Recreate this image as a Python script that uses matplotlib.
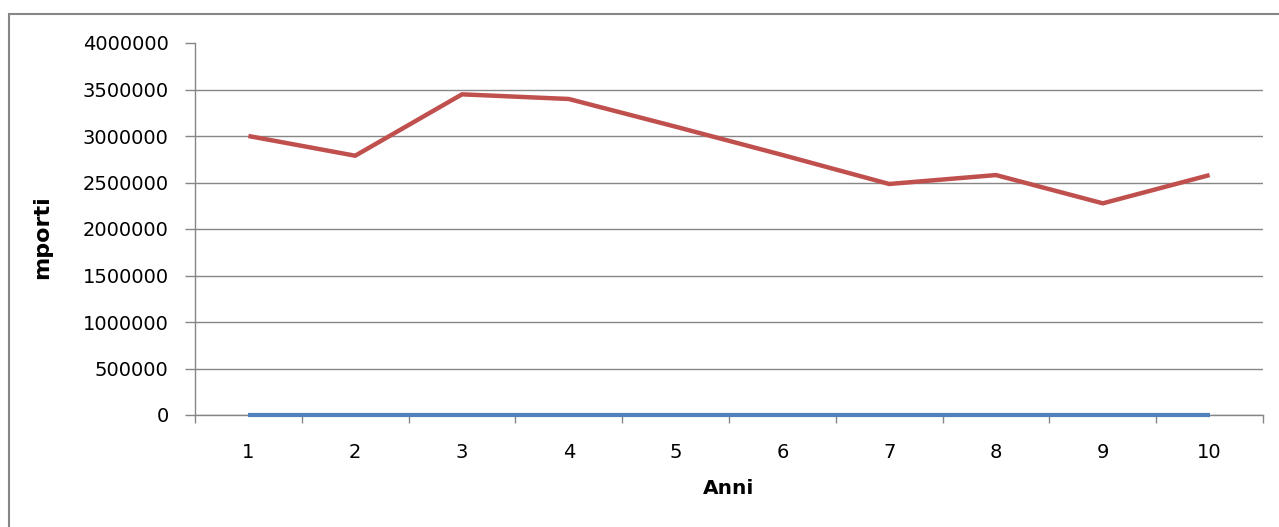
import matplotlib.pyplot as plt
from matplotlib.patches import Rectangle

# data
anni = [1, 2, 3, 4, 5, 6, 7, 8, 9, 10]
importi = [3000000, 2788000, 3448000, 3398000, 3100000, 2796000, 2484000, 2580000, 2276000, 2580000]
zero_serie = [0, 0, 0, 0, 0, 0, 0, 0, 0, 0]
y_ticks = [0, 500000, 1000000, 1500000, 2000000, 2500000, 3000000, 3500000, 4000000]

grey = '#868686'

fig = plt.figure(figsize=(12.79, 5.27), dpi=100)
ax = fig.add_axes([195 / 1279, 1 - 415 / 527, (1263 - 195) / 1279, (415 - 43) / 527])

ax.plot(anni, zero_serie, color='#4F81BD', lw=3, clip_on=False, zorder=4, solid_capstyle='butt')
ax.plot(anni, importi, color='#C0504D', lw=3.2, clip_on=False, zorder=5, solid_capstyle='butt')

ax.set_xlim(0.5, 10.5)
ax.set_ylim(0, 4000000)
ax.set_yticks(y_ticks)
ax.set_yticklabels([str(v) for v in y_ticks])
ax.set_xticks(anni)
ax.set_xticks([x + 0.5 for x in range(0, 11)], minor=True)

ax.tick_params(axis='x', which='major', length=0, pad=20, labelsize=14)
ax.tick_params(axis='x', which='minor', length=6, width=1, color=grey, direction='out')
ax.tick_params(axis='y', length=7, width=1, color=grey, pad=12, labelsize=14)

ax.yaxis.grid(True, color=grey, lw=1)
ax.set_axisbelow(True)
ax.get_ygridlines()[-1].set_visible(False)

for s in ['top', 'right']:
    ax.spines[s].set_visible(False)
for s in ['left', 'bottom']:
    ax.spines[s].set_color(grey)
    ax.spines[s].set_linewidth(1)

fig.text(42 / 1279, 1 - 237 / 527, 'mporti', rotation=90, fontsize=16, fontweight='bold',
         ha='center', va='center')
fig.text(729 / 1279, 1 - 488 / 527, 'Anni', fontsize=14.5, fontweight='bold',
         ha='center', va='center')

# outer chart border (cut off on the right and bottom)
fig.patches.append(Rectangle((9 / 1279, -1), 2, 1 + (1 - 14 / 527), transform=fig.transFigure,
                             fill=False, edgecolor=grey, lw=1.5))

fig.savefig('out.png', dpi=100)
